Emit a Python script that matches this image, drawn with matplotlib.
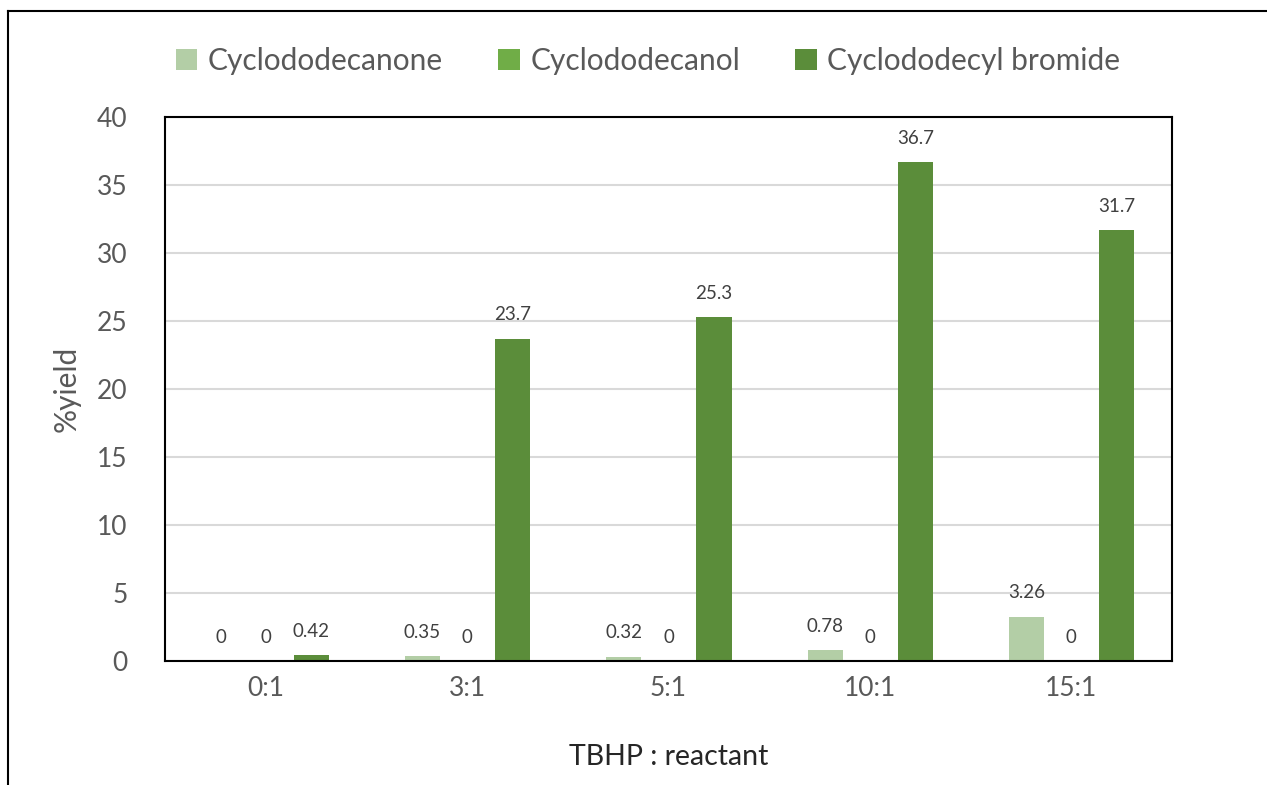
import matplotlib
matplotlib.use('Agg')
import matplotlib.pyplot as plt
from matplotlib.lines import Line2D
import numpy as np

# data
ratios = ['0:1', '3:1', '5:1', '10:1', '15:1']
cyclododecanone = [0, 0.35, 0.32, 0.78, 3.26]
cyclododecanol = [0, 0, 0, 0, 0]
cyclododecyl_bromide = [0.42, 23.7, 25.3, 36.7, 31.7]

series = [
    ('Cyclododecanone', cyclododecanone, '#B3CEA6'),
    ('Cyclododecanol', cyclododecanol, '#70AD47'),
    ('Cyclododecyl bromide', cyclododecyl_bromide, '#5B8D3A'),
]

plt.rcParams['font.family'] = ['Lato', 'DejaVu Sans']

fig = plt.figure(figsize=(12.67, 7.85), dpi=100)
ax = fig.add_axes([165 / 1267, 1 - 661 / 785, (1172 - 165) / 1267, (661 - 117) / 785])

x = np.arange(len(ratios))
width = 0.175
offsets = [-0.222, 0, 0.226]

for (name, vals, col), off in zip(series, offsets):
    bars = ax.bar(x + off, vals, width, color=col, label=name, zorder=3)
    ax.bar_label(bars, labels=[f'{v:g}' for v in vals], padding=11,
                 fontsize=13.5, color='#404040')

ax.set_xlim(-0.5, len(ratios) - 0.5)
ax.set_ylim(0, 40)
ax.set_yticks(range(0, 41, 5))
ax.set_xticks(x)
ax.set_xticklabels(ratios)
ax.grid(axis='y', color='#D9D9D9', linewidth=1.5, zorder=0)
ax.tick_params(axis='both', length=0, labelsize=19, labelcolor='#595959')
ax.tick_params(axis='y', pad=27)
ax.tick_params(axis='x', pad=11)
for s in ax.spines.values():
    s.set_color('black')
    s.set_linewidth(1.5)
    s.set_zorder(5)

ax.set_ylabel('%yield', fontsize=21.5, color='#595959', labelpad=12)
ax.set_xlabel('TBHP : reactant', fontsize=20.5, color='#262626', labelpad=31)

fig.legend(loc='center', bbox_to_anchor=(648 / 1267, 1 - 61 / 785), ncol=3,
           frameon=False, fontsize=21.5, labelcolor='#595959',
           handlelength=0.72, handleheight=0.72, handletextpad=0.35,
           columnspacing=1.85)

# outer chart frame (left and top edges visible)
fig.add_artist(Line2D([8 / 1267, 8 / 1267], [0, 1 - 11 / 785],
                      transform=fig.transFigure, color='black', linewidth=1.5))
fig.add_artist(Line2D([8 / 1267, 1], [1 - 11 / 785, 1 - 11 / 785],
                      transform=fig.transFigure, color='black', linewidth=1.5))

fig.savefig('out.png', dpi=100)
